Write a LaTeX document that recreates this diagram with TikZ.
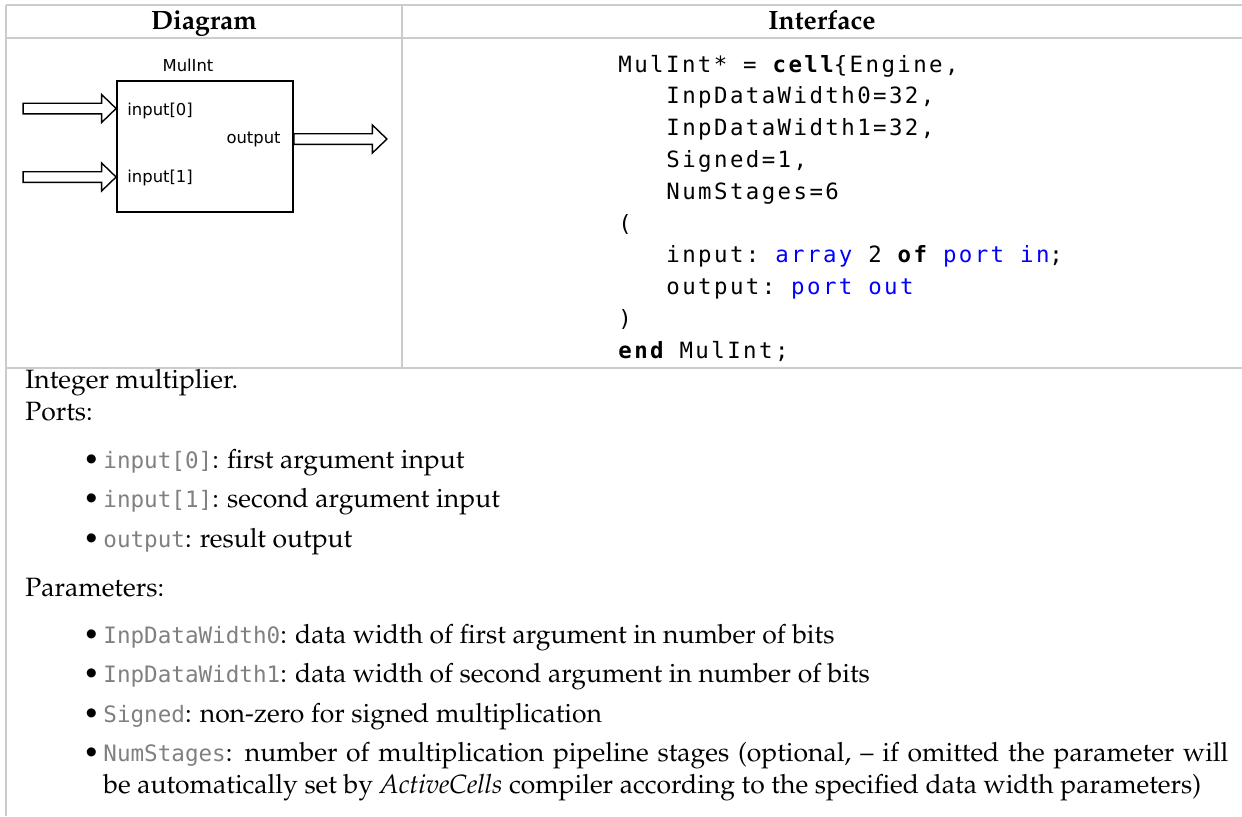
\documentclass[tikz,border=0pt]{standalone}
\usepackage{fontspec}
\usepackage[T1]{fontenc}
\renewcommand{\rmdefault}{ppl}
\newfontfamily\blockfnt{DejaVu Sans}
\newfontfamily\codefnt{DejaVu Sans Mono}[LetterSpace=10.8]
\newfontfamily\namefnt{DejaVu Sans Mono}
\usetikzlibrary{calc}

\definecolor{rulegray}{RGB}{204,204,204}
\definecolor{labelgray}{RGB}{128,128,128}
\definecolor{codeblue}{RGB}{0,0,255}

% one fixed column of the code listing
\newcommand{\csp}{\hspace*{7.95pt}}
% grey port / parameter name in the description
\newcommand{\pname}[1]{\textcolor{labelgray}{\namefnt\fontsize{11.3}{16}\selectfont #1}}
% hollow bus arrow from #1 (tail) to #2 (tip), horizontal
\newcommand{\busarrow}[2]{%
  \draw[portarrow] ($(#1)+(0,-5.3)$) -- ($(#2)+(-14.5,-5.3)$) -- ($(#2)+(-14.5,-14)$)
    -- (#2) -- ($(#2)+(-14.5,14)$) -- ($(#2)+(-14.5,5.3)$) -- ($(#1)+(0,5.3)$) -- cycle;}

\begin{document}
\begin{tikzpicture}[x=0.5pt, y=-0.5pt,
    rule/.style={draw=rulegray, line width=0.75pt},
    head/.style={font=\fontsize{13.25}{16}\selectfont\bfseries, anchor=base, inner sep=0pt},
    bodytext/.style={font=\fontsize{13.25}{16}\selectfont, anchor=base west, inner sep=0pt},
    bulletmark/.style={font=\fontsize{13.25}{16}\selectfont, anchor=base, inner sep=0pt},
    codeline/.style={font=\codefnt\fontsize{11.2}{14}\selectfont, anchor=base west, inner sep=0pt},
    portlabel/.style={font=\blockfnt\fontsize{8.2}{10}\selectfont, inner sep=0pt},
    blockbox/.style={draw, line width=0.9pt, inner sep=0pt},
    portarrow/.style={draw, line width=0.7pt, fill=white}]

    \useasboundingbox (0,0) rectangle (1242,816);

    % ---- table rules ----
    \draw[rule] (6,5) -- (1242,5);
    \draw[rule] (6,38) -- (1242,38);
    \draw[rule] (6,368) -- (1242,368);
    \draw[rule] (6,5) -- (6,816);
    \draw[rule] (402,5) -- (402,368);

    % ---- column headings ----
    \node[head] (hdiag) at (204,29) {Diagram};
    \node[head] (hiface) at (822,29) {Interface};

    % ---- cell block ----
    \node[blockbox, minimum width=88pt, minimum height=65.5pt] (mul) at (205,146.2) {};
    \node[portlabel, anchor=base] (mulname) at (188,71.5) {MulInt};
    \node[portlabel, anchor=base west] (lin0) at (127,115.5) {input[0]};
    \node[portlabel, anchor=base west] (lin1) at (127,182.5) {input[1]};
    \node[portlabel, anchor=base east] (lout) at (281,143) {output};

    % ---- port arrows ----
    \coordinate (in0) at (mul.west |- 0,108.5);
    \coordinate (in0tail) at ($(in0)+(-93,0)$);
    \coordinate (in1) at (mul.west |- 0,177);
    \coordinate (in1tail) at ($(in1)+(-93,0)$);
    \coordinate (out) at (mul.east |- 0,139);
    \coordinate (outtip) at ($(out)+(93,0)$);
    \busarrow{in0tail}{in0}
    \busarrow{in1tail}{in1}
    \busarrow{out}{outtip}

    % ---- interface listing ----
    \node[codeline] (c1) at (618,72) {MulInt*\csp=\csp{\bfseries cell}\{Engine,};
    \node[codeline] (c2) at (666,103.8) {InpDataWidth0=32,};
    \node[codeline] (c3) at (666,135.6) {InpDataWidth1=32,};
    \node[codeline] (c4) at (666,167.4) {Signed=1,};
    \node[codeline] (c5) at (666,199.2) {NumStages=6};
    \node[codeline] (c6) at (618,231) {(};
    \node[codeline] (c7) at (666,262.8) {input:\csp\textcolor{codeblue}{array}\csp2\csp{\bfseries of}\csp\textcolor{codeblue}{port}\csp\textcolor{codeblue}{in};};
    \node[codeline] (c8) at (666,294.6) {output:\csp\textcolor{codeblue}{port}\csp\textcolor{codeblue}{out}};
    \node[codeline] (c9) at (618,326.4) {)};
    \node[codeline] (c10) at (618,358.2) {{\bfseries end}\csp MulInt;};

    % ---- description ----
    \node[bodytext] (desc) at (25,388) {Integer multiplier.};
    \node[bodytext] (ports) at (25,420) {Ports:};
    \node[bulletmark] (b1) at (91.5,468) {\textbullet};
    \node[bodytext] (pin0) at (103,468) {\pname{input[0]}: first argument input};
    \node[bulletmark] (b2) at (91.5,507.5) {\textbullet};
    \node[bodytext] (pin1) at (103,507.5) {\pname{input[1]}: second argument input};
    \node[bulletmark] (b3) at (91.5,547) {\textbullet};
    \node[bodytext] (pout) at (103,547) {\pname{output}: result output};

    \node[bodytext] (params) at (25,596) {Parameters:};
    \node[bulletmark] (b4) at (91.5,643) {\textbullet};
    \node[bodytext] (pw0) at (103,643) {\pname{InpDataWidth0}: data width of first argument in number of bits};
    \node[bulletmark] (b5) at (91.5,682.5) {\textbullet};
    \node[bodytext] (pw1) at (103,682.5) {\pname{InpDataWidth1}: data width of second argument in number of bits};
    \node[bulletmark] (b6) at (91.5,722) {\textbullet};
    \node[bodytext] (psig) at (103,722) {\pname{Signed}: non-zero for signed multiplication};
    \node[bulletmark] (b7) at (91.5,761.5) {\textbullet};
    \node[bodytext] (pnum) at (103,761.5) {\makebox[562.5pt][s]{\pname{NumStages}: number of multiplication pipeline stages (optional, -- if omitted the parameter will}};
    \node[bodytext] (pnumb) at (103,793.5) {be automatically set by \textit{ActiveCells} compiler according to the specified data width parameters)};
\end{tikzpicture}
\end{document}
